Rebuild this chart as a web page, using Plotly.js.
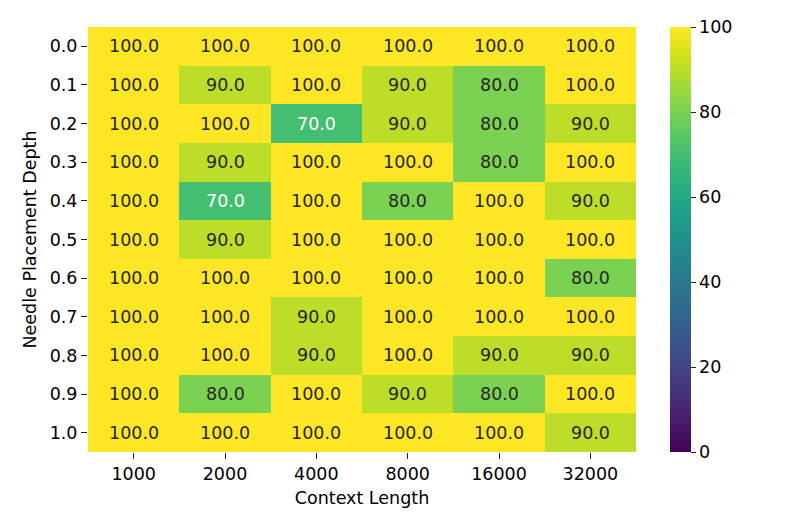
<!DOCTYPE html>
<html>
<head>
<meta charset="utf-8">
<script src="https://cdn.plot.ly/plotly-3.0.1.min.js"></script>
<style>body{margin:0;background:#fff}</style>
</head>
<body>
<div id="heat" style="width:793px;height:529px"></div>
<script>
var contextLengths = ['1000','2000','4000','8000','16000','32000'];
var depths = ['0.0','0.1','0.2','0.3','0.4','0.5','0.6','0.7','0.8','0.9','1.0'];
var scores = [
	[100,100,100,100,100,100],
	[100, 90,100, 90, 80,100],
	[100,100, 70, 90, 80, 90],
	[100, 90,100,100, 80,100],
	[100, 70,100, 80,100, 90],
	[100, 90,100,100,100,100],
	[100,100,100,100,100, 80],
	[100,100, 90,100,100,100],
	[100,100, 90,100, 90, 90],
	[100, 80,100, 90, 80,100],
	[100,100,100,100,100, 90]
];
var cbTicks = [0,20,40,60,80,100];

function main(){
	var font = 'DejaVu Sans, sans-serif';
	// use column / row index positions, labels come from ticktext
	var xi = contextLengths.map(function(d, k){ return k; });
	var yi = depths.map(function(d, k){ return k; });
	var ann = [];
	for (var i = 0; i < depths.length; i++){
		for (var j = 0; j < contextLengths.length; j++){
			var v = scores[i][j];
			ann.push({
				x: xi[j], y: yi[i],
				text: v.toFixed(1),
				showarrow: false,
				font: {family: font, size: 17.5, color: v <= 70 ? '#ffffff' : '#262626'}
			});
		}
	}

	var data = [{
		type: 'heatmap',
		x: xi,
		y: yi,
		z: scores,
		zmin: 0,
		zmax: 100,
		colorscale: 'Viridis',
		hoverinfo: 'skip',
		colorbar: {
			x: 1.062, xanchor: 'left', xpad: 0,
			y: 0.5, yanchor: 'middle', ypad: 0,
			len: 1, lenmode: 'fraction',
			thickness: 21,
			outlinewidth: 0,
			tickvals: cbTicks,
			ticks: 'outside', ticklen: 5, tickcolor: '#222',
			tickfont: {family: font, size: 17.5, color: '#000'}
		}
	}];

	var layout = {
		width: 793, height: 529,
		margin: {l: 88, r: 157, t: 27, b: 77},
		paper_bgcolor: '#fff',
		plot_bgcolor: '#fff',
		font: {family: font, color: '#000'},
		xaxis: {
			range: [-0.5, contextLengths.length - 0.5],
			tickvals: xi, ticktext: contextLengths,
			ticks: 'outside', ticklen: 6, tickcolor: '#222',
			showgrid: false, zeroline: false, showline: false,
			tickfont: {size: 17.5},
			title: {text: 'Context Length', font: {size: 17.5}, standoff: 8}
		},
		yaxis: {
			range: [depths.length - 0.5, -0.5],
			tickvals: yi, ticktext: depths,
			ticks: 'outside', ticklen: 6, tickcolor: '#222',
			showgrid: false, zeroline: false, showline: false,
			tickfont: {size: 17.5},
			title: {text: 'Needle Placement Depth', font: {size: 17.5}, standoff: 8}
		},
		annotations: ann
	};

	Plotly.newPlot('heat', data, layout, {staticPlot: true, displayModeBar: false});
}
main();
</script>
</body>
</html>
